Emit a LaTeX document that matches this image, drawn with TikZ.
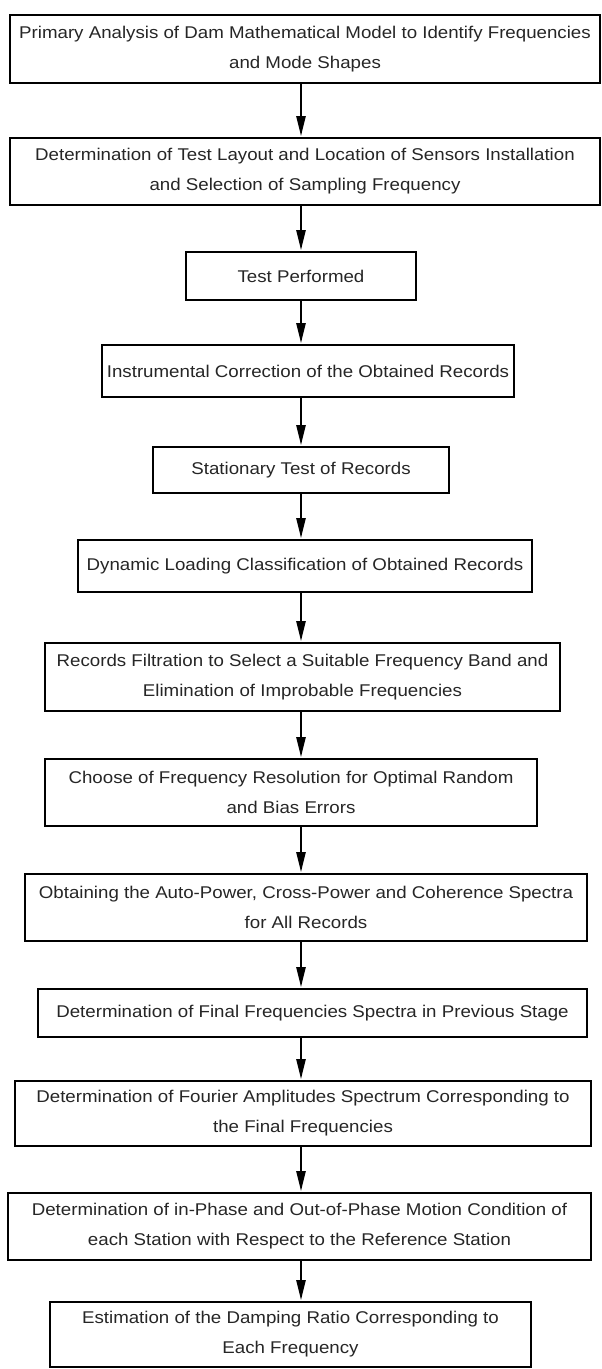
\documentclass[tikz,border=0pt]{standalone}
\usepackage{fontspec}
\setmainfont[FakeStretch=1.1]{Liberation Sans}
\usetikzlibrary{arrows.meta}
\begin{document}
\begin{tikzpicture}[x=1pt,y=-1pt,
  box/.style={draw=black, line width=2.6pt, fill=white, inner sep=0pt, align=center,
    font=\fontsize{17}{30}\selectfont, text=black!85},
  arr/.style={line width=2.2pt, -{Triangle[length=20pt,width=9pt]}, shorten >=0.5pt}]
\useasboundingbox (0,0) rectangle (602,1369);
\fill[white] (0,0) rectangle (602,1369);
\coordinate (ax) at (301,0);
\node[box, minimum width=590pt, minimum height=68pt] (b1) at (305,49)
  {Primary Analysis of Dam Mathematical Model to Identify Frequencies\\and Mode Shapes};
\node[box, minimum width=590pt, minimum height=67pt] (b2) at (305,171.5)
  {Determination of Test Layout and Location of Sensors Installation\\and Selection of Sampling Frequency};
\node[box, minimum width=230pt, minimum height=48pt] (b3) at (301,276)
  {Test Performed};
\node[box, minimum width=412pt, minimum height=52pt] (b4) at (308,371)
  {Instrumental Correction of the Obtained Records};
\node[box, minimum width=296pt, minimum height=46pt] (b5) at (301,470)
  {Stationary Test of Records};
\node[box, minimum width=454pt, minimum height=52pt] (b6) at (305,566)
  {Dynamic Loading Classification of Obtained Records};
\node[box, minimum width=515pt, minimum height=68pt] (b7) at (302.5,677)
  {Records Filtration to Select a Suitable Frequency Band and\\Elimination of Improbable Frequencies};
\node[box, minimum width=492pt, minimum height=67pt] (b8) at (291,792.5)
  {Choose of Frequency Resolution for Optimal Random\\and Bias Errors};
\node[box, minimum width=562pt, minimum height=67pt] (b9) at (306,907.5)
  {Obtaining the Auto-Power, Cross-Power and Coherence Spectra\\for All Records};
\node[box, minimum width=549pt, minimum height=48pt] (b10) at (312.5,1013)
  {Determination of Final Frequencies Spectra in Previous Stage};
\node[box, minimum width=576pt, minimum height=65pt] (b11) at (303,1113.5)
  {Determination of Fourier Amplitudes Spectrum Corresponding to\\the Final Frequencies};
\node[box, minimum width=583pt, minimum height=67pt] (b12) at (299.5,1226.5)
  {Determination of in-Phase and Out-of-Phase Motion Condition of\\each Station with Respect to the Reference Station};
\node[box, minimum width=481pt, minimum height=65pt] (b13) at (290.5,1334.5)
  {Estimation of the Damping Ratio Corresponding to\\Each Frequency};
\foreach \a/\b in {b1/b2,b2/b3,b3/b4,b4/b5,b5/b6,b6/b7,b7/b8,b8/b9,b9/b10,b10/b11,b11/b12,b12/b13}
  \draw[arr] (\a.south -| ax) -- (\b.north -| ax);
\end{tikzpicture}
\end{document}
